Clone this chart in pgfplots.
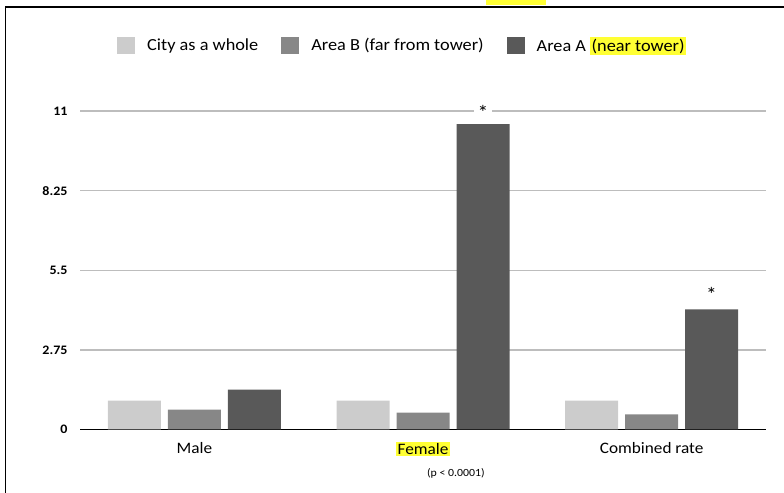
\documentclass[border=0pt]{standalone}
\usepackage{pgfplots}
\pgfplotsset{compat=1.18}
\usepackage{fontspec}
\setmainfont{Carlito}[FakeStretch=1.08]
\usepackage{xcolor}
\definecolor{cityc}{HTML}{CCCCCC}
\definecolor{areab}{HTML}{878787}
\definecolor{areaa}{HTML}{595959}
\definecolor{hl}{HTML}{FFFF33}
\definecolor{gridc}{HTML}{BDBDBD}
\setlength{\fboxsep}{1.5pt}

\begin{document}
\begin{tikzpicture}
\useasboundingbox (0,0) rectangle (784bp,493bp);
% cut-off highlight of the title above the frame
\fill[hl] (486bp,488bp) rectangle (546bp,493bp);
\draw[line width=1.4bp] (5.5bp,0) -- (5.5bp,486bp) -- (784bp,486bp);
\begin{axis}[
  at={(80bp,63.5bp)}, anchor=south west,
  scale only axis, width=686bp, height=318.5bp,
  clip=false,
  ybar=7bp, bar width=53bp,
  every axis plot post/.append style={
    legend image code/.code={\fill[##1] (0bp,-8.5bp) rectangle (18bp,8.5bp);}},
  xmin=-0.5, xmax=2.5, ymin=0, ymax=11,
  xtick={0,1,2},
  xticklabels={Male,{\colorbox{hl}{Female}},Combined rate},
  ytick={2.75,5.5,8.25,11},
  yticklabels={2.75,5.5,8.25,11},
  extra y ticks={0}, extra y tick labels={0},
  extra y tick style={ymajorgrids=true, grid style={black, line width=1.3bp}},
  ymajorgrids, grid style={gridc, line width=1.3bp},
  axis line style={draw=none},
  major tick length=0pt,
  xticklabel style={font=\fontsize{16}{18}\selectfont, yshift=-9bp},
  yticklabel style={font=\fontsize{13}{15}\selectfont\bfseries, xshift=-9bp},
  legend style={at={(0.054,1.207)}, anchor=west, draw=none, fill=none,
    inner sep=0pt, legend columns=3,
    font=\fontsize{17}{19}\selectfont,
    /tikz/every even column/.append style={column sep=11bp},
    nodes={inner xsep=12bp}},
]
\addplot[fill=cityc, draw=none] coordinates {(0,1.0) (1,1.0) (2,1.0)};
\addplot[fill=areab, draw=none] coordinates {(0,0.69) (1,0.58) (2,0.52)};
\addplot[fill=areaa, draw=none] coordinates {(0,1.38) (1,10.55) (2,4.15)};
\legend{City as a whole, Area B (far from tower), Area A \colorbox{hl}{(near tower)}}
\node[fill=white, inner xsep=4bp, inner ysep=1bp, font=\fontsize{20}{20}\selectfont, text depth=0pt, text height=7bp] at (axis cs:1.262,11) {\raisebox{-5bp}{*}};
\node[inner sep=1bp, font=\fontsize{20}{20}\selectfont] at (axis cs:2.262,4.65) {\raisebox{-5bp}{*}};
\node[font=\fontsize{11}{13}\selectfont] at (rel axis cs:0.548,-0.138) {(p < 0.0001)};
\end{axis}
\end{tikzpicture}
\end{document}
